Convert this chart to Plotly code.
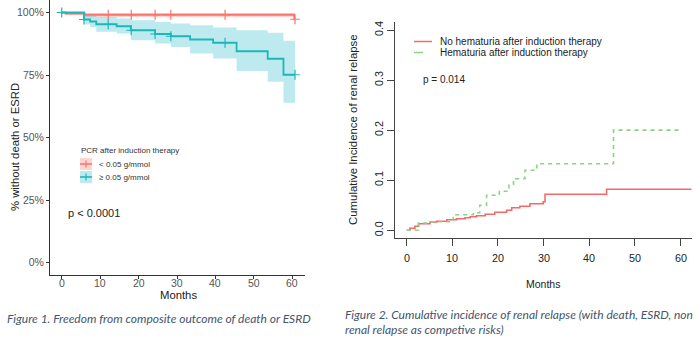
import plotly.graph_objects as go

W, H = 700, 338

# ---------- Figure 1: freedom from death or ESRD (Kaplan-Meier) ----------
km_low_t = [0, 1.0, 6.0, 60.5, 60.7]
km_low_s = [100, 99.6, 99.1, 97.3, 97.3]
km_low_up = [100, 100, 99.8, 99.8, 99.8]
km_low_lo = [100, 99.0, 98.1, 98.1, 98.1]
km_low_cens_t = [12.1, 18.1, 24.3, 28.4, 42.5, 60.7]

km_high_t = [0, 5.8, 7.4, 9.0, 14.3, 18.0, 24.3, 28.4, 33.4, 39.4, 45.5, 53.6, 57.7, 60.7]
km_high_s = [100, 97.2, 96.4, 95.3, 94.5, 92.9, 91.4, 90.5, 89.2, 87.9, 84.5, 81.5, 75.1, 75.1]
km_high_up = [100, 99.4, 99.0, 98.2, 97.6, 96.9, 96.2, 95.6, 94.9, 94.0, 92.9, 91.9, 88.7, 88.7]
km_high_lo = [100, 95.2, 94.2, 92.3, 91.6, 88.9, 87.6, 86.2, 83.6, 81.6, 76.6, 72.3, 63.9, 63.9]
km_high_cens_t = [0, 5.8, 12.1, 18.1, 24.3, 28.4, 42.5, 60.7]

km_xticks = [0, 10, 20, 30, 40, 50, 60]
km_yticks = [0, 25, 50, 75, 100]
km_yticklabels = ["0%", "25%", "50%", "75%", "100%"]

# ---------- Figure 2: cumulative incidence of renal relapse ----------
ci_no_t = [0, 0.7, 1.8, 2.6, 5.1, 6.6, 8.8, 10.9, 12.8, 13.9, 15.3, 17.2, 19.3,
           21.9, 23.0, 24.8, 27.0, 29.9, 30.3, 43.8, 62.4]
ci_no_v = [0, 0.004, 0.008, 0.013, 0.0167, 0.018, 0.021, 0.023, 0.025, 0.027, 0.029,
           0.032, 0.036, 0.040, 0.045, 0.048, 0.053, 0.057, 0.072, 0.082, 0.082]
ci_hem_t = [0, 2.6, 5.1, 9.9, 10.2, 14.6, 16.0, 17.5, 20.3, 22.4, 23.4, 25.9, 28.5, 45.3, 60.0]
ci_hem_v = [0, 0.0147, 0.017, 0.020, 0.031, 0.035, 0.050, 0.070, 0.078, 0.090, 0.103,
            0.120, 0.133, 0.200, 0.200]

ci_xticks = [0, 10, 20, 30, 40, 50, 60]
ci_yticks = [0.0, 0.1, 0.2, 0.3, 0.4]
ci_yticklabels = ["0.0", "0.1", "0.2", "0.3", "0.4"]

RED, RED_BAND = "#F8766D", "rgba(248,118,109,0.30)"
TEAL, TEAL_BAND = "#1DB7BA", "rgba(0,175,190,0.26)"
CI_RED, CI_GREEN = "#F26A6A", "#8CD383"
CAPTION = "#44546A"
SANS = "Arial"
CAPTION_FONT = "Lato"


def px_x(p):
    return p / W


def px_y(p):
    return 1 - p / H


fig = go.Figure()

# KM confidence bands (lower bound first, upper filled to it)
for t, lo, up, band in [(km_low_t, km_low_lo, km_low_up, RED_BAND),
                        (km_high_t, km_high_lo, km_high_up, TEAL_BAND)]:
    fig.add_trace(go.Scatter(x=t, y=lo, mode="lines", line=dict(width=0, shape="hv"),
                             hoverinfo="skip", showlegend=False, xaxis="x", yaxis="y"))
    fig.add_trace(go.Scatter(x=t, y=up, mode="lines", line=dict(width=0, shape="hv"),
                             fill="tonexty", fillcolor=band, hoverinfo="skip",
                             showlegend=False, xaxis="x", yaxis="y"))

# KM step curves
for t, s, col in [(km_low_t, km_low_s, RED), (km_high_t, km_high_s, TEAL)]:
    fig.add_trace(go.Scatter(x=t, y=s, mode="lines", line=dict(color=col, width=1.8, shape="hv"),
                             showlegend=False, xaxis="x", yaxis="y"))


def step_value(t, s, at):
    val = s[0]
    for ti, si in zip(t, s):
        if ti <= at:
            val = si
    return val


# censoring marks
for ct, t, s, col in [(km_low_cens_t, km_low_t, km_low_s, RED),
                      (km_high_cens_t, km_high_t, km_high_s, TEAL)]:
    fig.add_trace(go.Scatter(x=ct, y=[step_value(t, s, c) for c in ct], mode="markers",
                             marker=dict(symbol="cross-thin", size=7, line=dict(color=col, width=1.2)),
                             showlegend=False, xaxis="x", yaxis="y"))

# cumulative incidence curves
fig.add_trace(go.Scatter(x=ci_no_t, y=ci_no_v, mode="lines",
                         line=dict(color=CI_RED, width=1.6, shape="hv"),
                         showlegend=False, xaxis="x2", yaxis="y2"))
fig.add_trace(go.Scatter(x=ci_hem_t, y=ci_hem_v, mode="lines",
                         line=dict(color=CI_GREEN, width=1.6, shape="hv", dash="4px,4px"),
                         showlegend=False, xaxis="x2", yaxis="y2"))

shapes = []
annotations = []

# x tick labels placed on each axis' own data scale
for v in km_xticks:
    annotations.append(dict(text=str(v), x=v, xref="x", y=px_y(282.5), yref="paper",
                            xanchor="center", yanchor="middle", showarrow=False,
                            font=dict(family=SANS, size=10.5, color="#555")))
for v in ci_xticks:
    annotations.append(dict(text=str(v), x=v, xref="x2", y=px_y(258), yref="paper",
                            xanchor="center", yanchor="middle", showarrow=False,
                            font=dict(family=SANS, size=10.8, color="#222")))

# legend of figure 1 (drawn as keys in paper space)
annotations.append(dict(text="PCR after induction therapy", x=px_x(79), y=px_y(150.7),
                        xref="paper", yref="paper", xanchor="left", yanchor="middle",
                        showarrow=False, font=dict(family=SANS, size=8, color="#333")))
for label, yc, col, band in [("< 0.05 g/mmol", 164, RED, RED_BAND),
                             ("\u2265 0.05 g/mmol", 177, TEAL, TEAL_BAND)]:
    shapes.append(dict(type="rect", xref="paper", yref="paper",
                       x0=px_x(80), x1=px_x(92), y0=px_y(yc - 6), y1=px_y(yc + 6),
                       fillcolor=band, line=dict(width=0)))
    shapes.append(dict(type="line", xref="paper", yref="paper",
                       x0=px_x(80), x1=px_x(92), y0=px_y(yc), y1=px_y(yc),
                       line=dict(color=col, width=1.6)))
    shapes.append(dict(type="line", xref="paper", yref="paper",
                       x0=px_x(86), x1=px_x(86), y0=px_y(yc - 3.5), y1=px_y(yc + 3.5),
                       line=dict(color=col, width=1.2)))
    annotations.append(dict(text=label, x=px_x(97), y=px_y(yc), xref="paper", yref="paper",
                            xanchor="left", yanchor="middle", showarrow=False,
                            font=dict(family=SANS, size=8, color="#333")))

annotations.append(dict(text="p < 0.0001", x=px_x(66), y=px_y(213), xref="paper", yref="paper",
                        xanchor="left", yanchor="middle", showarrow=False,
                        font=dict(family=SANS, size=11, color="#222")))
annotations.append(dict(text="% without death or ESRD", x=px_x(15), y=px_y(147),
                        xref="paper", yref="paper", textangle=-90, showarrow=False,
                        xanchor="center", yanchor="middle",
                        font=dict(family=SANS, size=11.3, color="#222")))
annotations.append(dict(text="Months", x=px_x(178), y=px_y(294.5), xref="paper", yref="paper",
                        showarrow=False, xanchor="center", yanchor="middle",
                        font=dict(family=SANS, size=11.3, color="#222")))
annotations.append(dict(text="<i>Figure 1. Freedom from composite outcome of death or ESRD</i>",
                        x=px_x(5), y=px_y(318), xref="paper", yref="paper",
                        xanchor="left", yanchor="middle", showarrow=False,
                        font=dict(family=CAPTION_FONT, size=12, color=CAPTION)))

# legend of figure 2
for label, yc, col, dash in [("No hematuria after induction therapy", 41.5, CI_RED, "solid"),
                             ("Hematuria after induction therapy", 52.5, CI_GREEN, "dash")]:
    shapes.append(dict(type="line", xref="paper", yref="paper",
                       x0=px_x(414), x1=px_x(432), y0=px_y(yc), y1=px_y(yc),
                       line=dict(color=col, width=1.5, dash=dash)))
    annotations.append(dict(text=label, x=px_x(438), y=px_y(yc), xref="paper", yref="paper",
                            xanchor="left", yanchor="middle", showarrow=False,
                            font=dict(family=SANS, size=10, color="#222")))
annotations.append(dict(text="p = 0.014", x=px_x(421), y=px_y(79.5), xref="paper", yref="paper",
                        xanchor="left", yanchor="middle", showarrow=False,
                        font=dict(family=SANS, size=10, color="#222")))
annotations.append(dict(text="Cumulative Incidence of renal relapse", x=px_x(353), y=px_y(130),
                        xref="paper", yref="paper", textangle=-90, showarrow=False,
                        xanchor="center", yanchor="middle",
                        font=dict(family=SANS, size=11.4, color="#222")))
annotations.append(dict(text="Months", x=px_x(543), y=px_y(284), xref="paper", yref="paper",
                        showarrow=False, xanchor="center", yanchor="middle",
                        font=dict(family=SANS, size=10.5, color="#222")))
annotations.append(dict(text="<i>Figure 2. Cumulative incidence of renal relapse (with death, ESRD, non</i>",
                        x=px_x(343), y=px_y(314), xref="paper", yref="paper",
                        xanchor="left", yanchor="middle", showarrow=False,
                        font=dict(family=CAPTION_FONT, size=12, color=CAPTION)))
annotations.append(dict(text="<i>renal relapse as competive risks)</i>",
                        x=px_x(343), y=px_y(329), xref="paper", yref="paper",
                        xanchor="left", yanchor="middle", showarrow=False,
                        font=dict(family=CAPTION_FONT, size=12, color=CAPTION)))

axis_common = dict(showgrid=False, zeroline=False, showline=True, ticks="outside", fixedrange=True)

fig.update_layout(
    width=W, height=H, margin=dict(l=0, r=0, t=0, b=0),
    paper_bgcolor="white", plot_bgcolor="white", showlegend=False,
    xaxis=dict(**axis_common, domain=[px_x(50), px_x(305)], range=[-3.04, 63.3],
               tickvals=km_xticks, showticklabels=False, linecolor="#333", linewidth=1,
               ticklen=3, tickcolor="#333", anchor="y"),
    yaxis=dict(**axis_common, domain=[px_y(275), 1], range=[-5, 105],
               tickvals=km_yticks, ticktext=km_yticklabels, linecolor="#333", linewidth=1,
               ticklen=3, tickcolor="#333", tickfont=dict(family=SANS, size=10.5, color="#555"),
               anchor="x"),
    xaxis2=dict(**axis_common, domain=[px_x(395), px_x(692)], range=[-2.56, 62.5],
                tickvals=ci_xticks, showticklabels=False, linecolor="#444", linewidth=1,
                ticklen=7, tickcolor="#444", anchor="y2"),
    yaxis2=dict(**axis_common, domain=[px_y(238.3), px_y(22)], range=[-0.016, 0.416],
                tickvals=ci_yticks, ticktext=ci_yticklabels, tickangle=-90,
                linecolor="#444", linewidth=1, ticklen=7, tickcolor="#444",
                tickfont=dict(family=SANS, size=10.8, color="#222"), anchor="x2"),
    shapes=shapes, annotations=annotations,
)

fig.write_html("out.html")
